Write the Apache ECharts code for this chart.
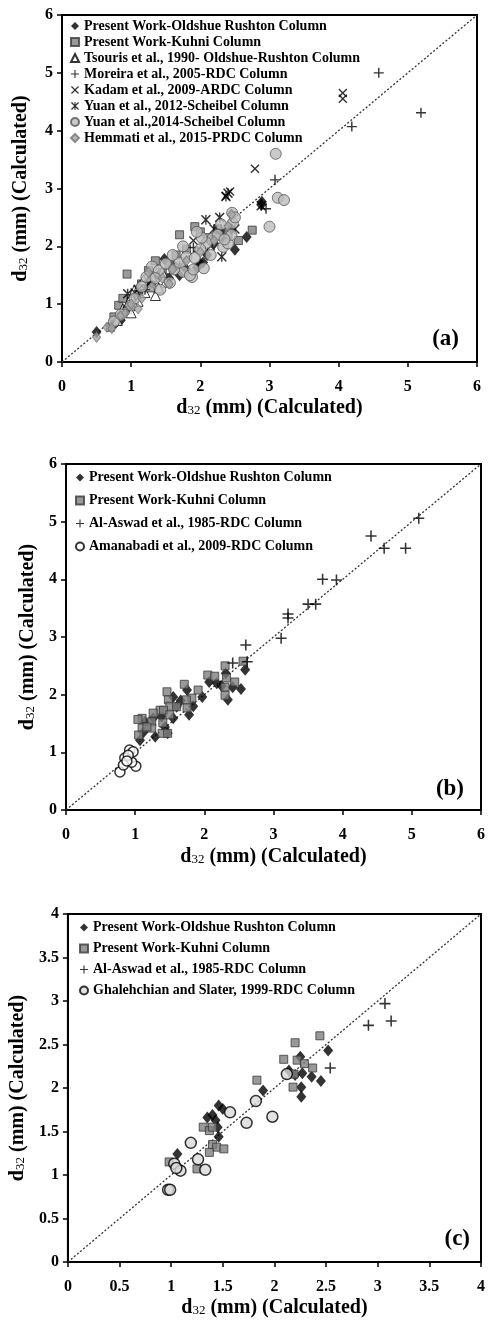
<!DOCTYPE html>
<html>
<head>
<meta charset="utf-8">
<script src="https://cdn.jsdelivr.net/npm/echarts@6/dist/echarts.min.js"></script>
<style>
  html, body { margin: 0; padding: 0; background: #fff; }
  #chart { width: 488px; height: 1327px; }
</style>
</head>
<body>
<div id="chart"></div>
<script>
  // names used in the legends
  const nOldshue = 'Present Work-Oldshue Rushton Column'
  const nKuhni = 'Present Work-Kuhni Column'
  const nTsouris = 'Tsouris et al., 1990- Oldshue-Rushton Column'
  const nMoreira = 'Moreira et al., 2005-RDC Column'
  const nKadam = 'Kadam et al., 2009-ARDC Column'
  const nYuan12 = 'Yuan et al., 2012-Scheibel Column'
  const nYuan14 = 'Yuan et al.,2014-Scheibel Column'
  const nHemmati = 'Hemmati et al., 2015-PRDC Column'
  const nAlAswad = 'Al-Aswad et al., 1985-RDC Column'
  const nAmanabadi = 'Amanabadi et al., 2009-RDC Column'
  const nGhalehchian = 'Ghalehchian and Slater, 1999-RDC Column'

  // ---- panel (a) : [calculated, experimental] ----
  const aOldshue = [[0.5,0.52],[0.72,0.62],[0.78,0.68],[0.85,0.72],[0.92,0.88],[1.05,1.02],[1.12,1.18],[1.25,1.38],[1.4,1.5],[1.48,1.78],[1.55,1.45],[1.7,1.5],[1.8,1.6],[1.95,1.63],[2.04,1.72],[2.1,1.85],[2.2,2.05],[2.3,2.25],[2.35,2.1],[2.5,1.94],[2.67,2.16],[2.89,2.77],[2.88,2.72],[2.45,2.3],[2.0,1.7],[1.3,1.45],[1.6,1.65]]
  const aKuhni = [[0.7,0.6],[0.75,0.78],[0.82,0.98],[0.88,1.1],[0.94,1.52],[1.0,1.05],[1.1,1.2],[1.15,1.35],[1.25,1.58],[1.35,1.75],[1.45,1.55],[1.55,1.68],[1.65,1.85],[1.7,2.2],[1.8,1.95],[1.92,2.34],[2.0,2.25],[2.1,2.15],[2.25,2.3],[2.4,2.2],[2.55,2.1],[2.75,2.28],[1.3,1.3],[0.95,0.9]]
  const aTsouris = [[0.8,0.72],[0.88,0.92],[0.95,1.0],[1.0,1.12],[1.05,1.25],[1.1,1.05],[1.12,1.32],[1.2,1.2],[1.28,1.3],[1.35,1.15],[1.4,1.28],[1.5,1.38],[1.3,1.48],[1.18,1.42],[1.0,0.85],[1.45,1.55]]
  const aMoreira = [[4.58,5.0],[5.19,4.31],[4.19,4.07],[3.08,3.15],[2.89,2.73],[2.95,2.65],[1.2,1.25],[0.95,0.95],[2.3,2.3],[1.9,1.98]]
  const aKadam = [[4.06,4.65],[4.06,4.55],[2.79,3.34],[2.43,2.95],[2.37,2.87],[1.05,1.2],[1.25,1.35],[1.9,2.1],[2.15,2.0],[1.0,0.95]]
  const aYuan12 = [[2.4,2.92],[2.37,2.86],[2.08,2.46],[2.28,2.5],[2.31,1.82],[2.88,2.7],[0.95,1.18],[1.1,1.25],[2.5,2.3],[2.2,2.3],[1.7,1.65]]
  const aYuan14 = [[3.09,3.6],[3.12,2.84],[3.21,2.8],[3.0,2.34],[2.46,2.58],[2.47,2.4],[2.33,1.99],[2.18,2.14],[2.09,2.06],[1.88,1.47],[1.75,1.56],[1.56,1.37],[1.42,1.25],[1.22,1.47],[1.3,1.65],[1.4,1.58],[1.5,1.7],[1.62,1.6],[1.7,1.72],[1.8,1.82],[1.85,1.5],[1.92,1.8],[2.0,1.95],[2.02,2.15],[2.15,1.85],[2.25,2.2],[2.3,2.38],[2.4,2.05],[2.45,2.2],[1.6,1.85],[1.75,2.0],[1.95,2.25],[2.35,2.12],[1.15,1.3],[1.35,1.45],[2.05,1.62],[0.75,0.7],[0.85,0.82],[1.0,0.98],[1.05,1.1],[2.5,2.5],[1.9,1.6]]
  const aHemmati = [[0.5,0.43],[0.65,0.6],[0.72,0.58],[0.85,0.8],[0.92,0.85],[1.0,1.0],[1.15,1.1],[1.25,1.55],[1.3,1.3],[1.45,1.45],[1.55,1.35],[1.6,1.6],[1.8,1.75],[2.0,1.9],[2.2,2.1],[2.4,2.35],[2.45,2.55],[1.1,0.92]]

  // ---- panel (b) ----
  const bOldshue = [[2.59,2.43],[2.53,2.1],[2.34,1.91],[2.41,2.13],[2.31,2.37],[2.18,2.2],[2.07,2.22],[1.97,1.96],[1.84,1.8],[1.78,1.65],[1.75,2.08],[1.55,1.59],[1.55,1.96],[1.43,1.44],[1.29,1.27],[1.07,1.21],[1.14,1.53],[1.26,1.59],[1.47,1.33],[1.6,1.79],[1.38,1.62],[1.66,1.9],[1.12,1.35],[2.25,2.15]]
  const bKuhni = [[2.3,2.5],[2.56,2.58],[2.05,2.34],[2.15,2.32],[2.32,2.29],[2.3,2.13],[2.3,1.99],[2.44,2.22],[1.91,2.08],[1.71,2.18],[1.82,1.94],[1.74,1.91],[1.75,1.77],[1.46,2.05],[1.48,1.91],[1.5,1.8],[1.6,1.79],[1.36,1.73],[1.41,1.73],[1.5,1.65],[1.26,1.68],[1.24,1.53],[1.1,1.59],[1.04,1.57],[1.1,1.42],[1.24,1.42],[1.39,1.33],[1.47,1.33],[1.05,1.3],[1.17,1.44],[1.4,1.51]]
  const bAlAswad = [[5.1,5.06],[4.41,4.75],[4.6,4.54],[4.91,4.54],[3.71,4.0],[3.91,3.99],[3.5,3.57],[3.61,3.57],[3.21,3.4],[3.21,3.33],[3.11,2.98],[2.6,2.86],[2.41,2.55],[2.62,2.57]]
  const bAmanabadi = [[0.78,0.66],[0.92,1.04],[0.85,0.9],[1.01,0.76],[0.97,1.01],[0.95,0.83],[0.83,0.78],[0.9,0.95],[0.88,0.85]]

  // ---- panel (c) ----
  const cOldshue = [[2.52,2.43],[2.25,2.36],[2.14,2.2],[2.27,2.17],[2.36,2.13],[2.45,2.08],[2.26,2.01],[2.26,1.9],[1.89,1.97],[1.46,1.8],[1.5,1.76],[1.35,1.66],[1.43,1.63],[1.45,1.55],[1.46,1.44],[1.06,1.24],[1.4,1.69],[2.2,2.15]]
  const cKuhni = [[2.44,2.6],[2.2,2.52],[2.09,2.33],[2.22,2.32],[2.29,2.28],[2.37,2.23],[2.19,2.16],[2.18,2.01],[1.83,2.09],[1.31,1.55],[1.37,1.51],[1.4,1.55],[1.4,1.35],[1.44,1.32],[1.51,1.3],[1.37,1.26],[0.98,1.15],[1.25,1.07]]
  const cAlAswad = [[3.07,2.97],[2.91,2.72],[3.13,2.77],[2.54,2.23]]
  const cGhalehchian = [[0.97,0.83],[0.99,0.83],[1.03,1.13],[1.09,1.05],[1.19,1.37],[1.26,1.18],[1.33,1.06],[1.57,1.72],[1.73,1.6],[1.82,1.85],[1.98,1.67],[2.12,2.16],[1.05,1.08]]

  // axis ranges and panel tags
  const axisMax = [6, 6, 4]
  const axisStep = [1, 1, 0.5]
  const panelTags = ['(a)', '(b)', '(c)']

  const FONT = '"Liberation Serif", "Times New Roman", serif'
  const PLUS = 'path://M4.3,0H5.7V4.3H10V5.7H5.7V10H4.3V5.7H0V4.3H4.3Z'
  const CROSS = 'path://M0,1.1L1.1,0L5,3.9L8.9,0L10,1.1L6.1,5L10,8.9L8.9,10L5,6.1L1.1,10L0,8.9L3.9,5Z'
  const STAR = 'path://M0,1.1L1.1,0L5,3.9L8.9,0L10,1.1L6.1,5L10,8.9L8.9,10L5,6.1L1.1,10L0,8.9L3.9,5Z M4.35,0H5.65V10H4.35Z'

  // style of each data set (same look in every panel)
  const looks = {}
  looks[nOldshue] = { symbol: 'diamond', symbolSize: [10, 12], itemStyle: { color: '#000' } }
  looks[nKuhni] = { symbol: 'rect', symbolSize: 8, itemStyle: { color: '#7f7f7f', borderColor: '#3a3a3a', borderWidth: 1 } }
  looks[nTsouris] = { symbol: 'triangle', symbolSize: 10, itemStyle: { color: '#fff', borderColor: '#000', borderWidth: 1 } }
  looks[nMoreira] = { symbol: PLUS, symbolSize: 10, itemStyle: { color: '#000' } }
  looks[nKadam] = { symbol: CROSS, symbolSize: 9, itemStyle: { color: '#000' } }
  looks[nYuan12] = { symbol: STAR, symbolSize: 10, itemStyle: { color: '#000' } }
  looks[nYuan14] = { symbol: 'circle', symbolSize: 11, itemStyle: { color: '#bdbdbd', borderColor: '#555', borderWidth: 1 } }
  looks[nHemmati] = { symbol: 'diamond', symbolSize: [8, 10], itemStyle: { color: '#a6a6a6', borderColor: '#777', borderWidth: 1 } }
  looks[nAlAswad] = { symbol: PLUS, symbolSize: 11, itemStyle: { color: '#000' } }
  looks[nAmanabadi] = { symbol: 'circle', symbolSize: 10, itemStyle: { color: '#fff', borderColor: '#000', borderWidth: 1.5 } }
  looks[nGhalehchian] = { symbol: 'circle', symbolSize: 11, itemStyle: { color: '#d9d9d9', borderColor: '#000', borderWidth: 1.5 } }

  const panels = [
    { grid: { left: 62, top: 15, width: 415, height: 347 }, yGap: 31, xGap: 36,
      legend: { left: 70, top: 18, lh: 16 }, tag: { right: 29, top: 328 },
      sets: [[nOldshue, aOldshue], [nKuhni, aKuhni], [nTsouris, aTsouris], [nMoreira, aMoreira], [nKadam, aKadam], [nYuan12, aYuan12], [nYuan14, aYuan14], [nHemmati, aHemmati]] },
    { grid: { left: 66, top: 464, width: 415, height: 346 }, yGap: 27, xGap: 37,
      legend: { left: 75, top: 466, lh: 23 }, tag: { right: 24, top: 778 },
      sets: [[nOldshue, bOldshue], [nKuhni, bKuhni], [nAlAswad, bAlAswad], [nAmanabadi, bAmanabadi]] },
    { grid: { left: 67, top: 914, width: 415, height: 348 }, yGap: 34, xGap: 36,
      legend: { left: 79, top: 917, lh: 21 }, tag: { right: 18, top: 1228 },
      sets: [[nOldshue, cOldshue], [nKuhni, cKuhni], [nAlAswad, cAlAswad], [nGhalehchian, cGhalehchian]] }
  ]

  const nameRich = {
    b: { fontFamily: FONT, fontWeight: 'bold', fontSize: 20, color: '#000', verticalAlign: 'bottom' },
    s: { fontFamily: FONT, fontSize: 13, color: '#000', verticalAlign: 'bottom', padding: [0, 0, 1, 0] }
  }
  const axisName = '{b|d}{s|32}{b| (mm) (Calculated)}'

  function makeAxis(i, gap, isY) {
    return {
      type: 'value', gridIndex: i, min: 0, max: axisMax[i], interval: axisStep[i],
      name: axisName, nameLocation: 'middle', nameGap: gap,
      nameTextStyle: { rich: nameRich },
      axisLine: { show: true, lineStyle: { color: '#000', width: 2 } },
      axisTick: { show: true, inside: false, length: 5, lineStyle: { color: '#000', width: 1.5 } },
      axisLabel: { color: '#000', fontFamily: FONT, fontWeight: 'bold', fontSize: 16, margin: isY ? 9 : 17 },
      splitLine: { show: false }
    }
  }

  const option = {
    backgroundColor: '#fff',
    animation: false,
    grid: [], xAxis: [], yAxis: [], legend: [], title: [], series: []
  }

  panels.forEach((p, i) => {
    option.grid.push(Object.assign({ show: true, borderColor: '#000', borderWidth: 2 }, p.grid))
    option.xAxis.push(makeAxis(i, p.xGap, false))
    option.yAxis.push(makeAxis(i, p.yGap, true))
    option.title.push({
      text: panelTags[i], right: p.tag.right, top: p.tag.top, padding: 0,
      textStyle: { fontFamily: FONT, fontWeight: 'bold', fontSize: 23, color: '#000' }
    })
    option.legend.push({
      orient: 'vertical', left: p.legend.left, top: p.legend.top, padding: 0,
      itemGap: 0, itemWidth: 8, itemHeight: 8,
      textStyle: { fontFamily: FONT, fontWeight: 'bold', fontSize: 14, color: '#000', lineHeight: p.legend.lh },
      data: p.sets.map(s => s[0])
    })
    // 1:1 dotted line
    option.series.push({
      type: 'line', xAxisIndex: i, yAxisIndex: i, name: '', silent: true, symbol: 'none', z: 1,
      data: [[0, 0], [axisMax[i], axisMax[i]]],
      lineStyle: { color: '#333', width: 1.3, type: [2, 2] }
    })
    p.sets.forEach(s => {
      const lk = looks[s[0]]
      option.series.push({
        type: 'scatter', name: s[0], xAxisIndex: i, yAxisIndex: i, z: 3,
        symbol: lk.symbol, symbolSize: lk.symbolSize, itemStyle: lk.itemStyle,
        data: s[1]
      })
    })
  })

  const chart = echarts.init(document.getElementById('chart'))
  chart.setOption(option)
</script>
</body>
</html>
